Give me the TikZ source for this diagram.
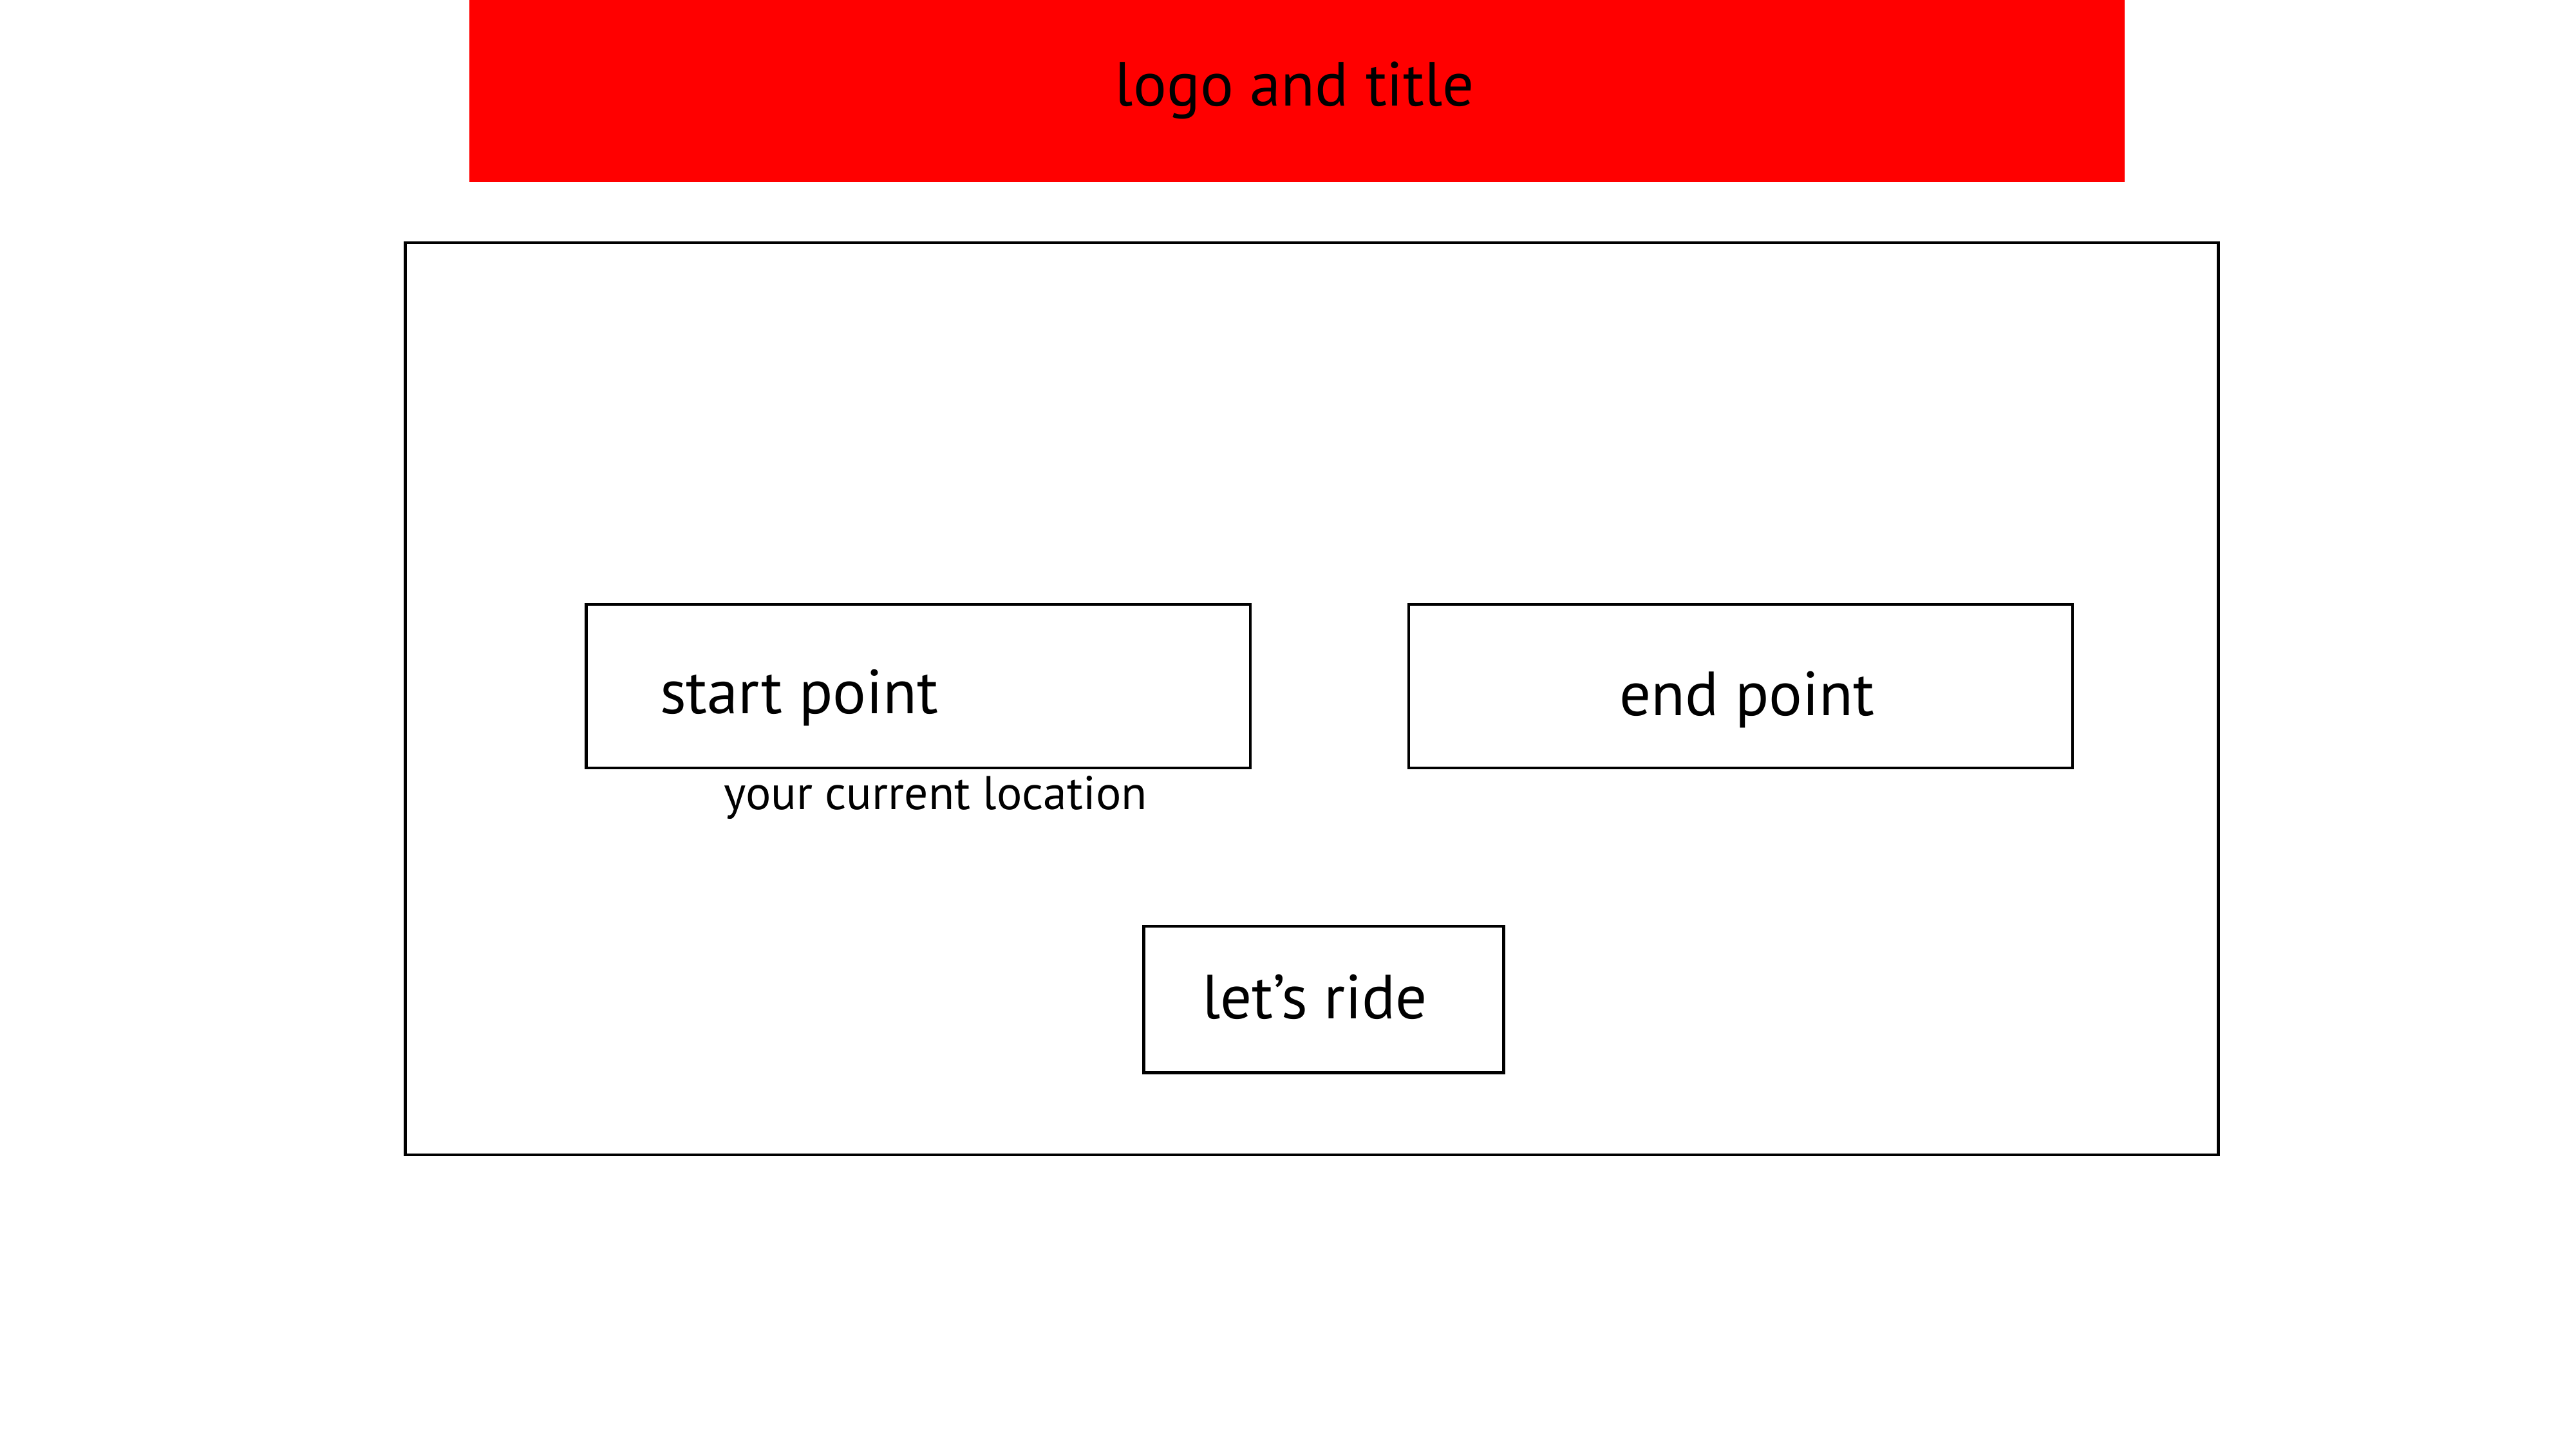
\documentclass[tikz,border=0pt]{standalone}
\usepackage{fontspec}
\setmainfont{PT Sans}
\usepackage{tikz}
\usetikzlibrary{positioning}

\begin{document}
\begin{tikzpicture}[
 x=0.01cm, y=-0.01cm,
 titlebar/.style={rectangle, fill={rgb,255:red,255;green,0;blue,0}, minimum width=10.07cm, minimum height=1.11cm, inner sep=0pt, font=\fontsize{10.8}{13}\selectfont},
 screen/.style={rectangle, draw, line width=0.5pt, minimum width=11.03cm, minimum height=5.55cm, inner sep=0pt},
 field/.style={rectangle, draw, line width=0.5pt, minimum width=4.04cm, minimum height=0.995cm, inner sep=0pt},
 button/.style={rectangle, draw, line width=0.5pt, minimum width=2.19cm, minimum height=0.89cm, inner sep=0pt},
 caption/.style={inner sep=0pt, anchor=base west, font=\fontsize{10.8}{13}\selectfont},
 hint/.style={inner sep=0pt, anchor=base west, font=\fontsize{8.2}{10}\selectfont}
 ]
 \useasboundingbox (0,0) rectangle (1568,882);
 % Header
 \node[titlebar] (bar) at (789.5,55.5) {};
 \node[caption] (title) at (678,64.4) {logo and title};
 % Screen frame
 \node[screen] (frame) at (798.5,425.5) {};
 % Fields
 \node[field] (start) at (559,417.75) {};
 \node[field] (end) at (1059.5,417.75) {};
 \node[caption] (starttxt) at (401,434.6) {start point};
 \node[caption] (endtxt) at (985,435.7) {end point};
 \node[hint] (hinttxt) at (440,493) {your current location};
 % Button
 \node[button] (ride) at (805.75,608.5) {};
 \node[caption] (ridetxt) at (731,620) {let’s ride};
\end{tikzpicture}
\end{document}
